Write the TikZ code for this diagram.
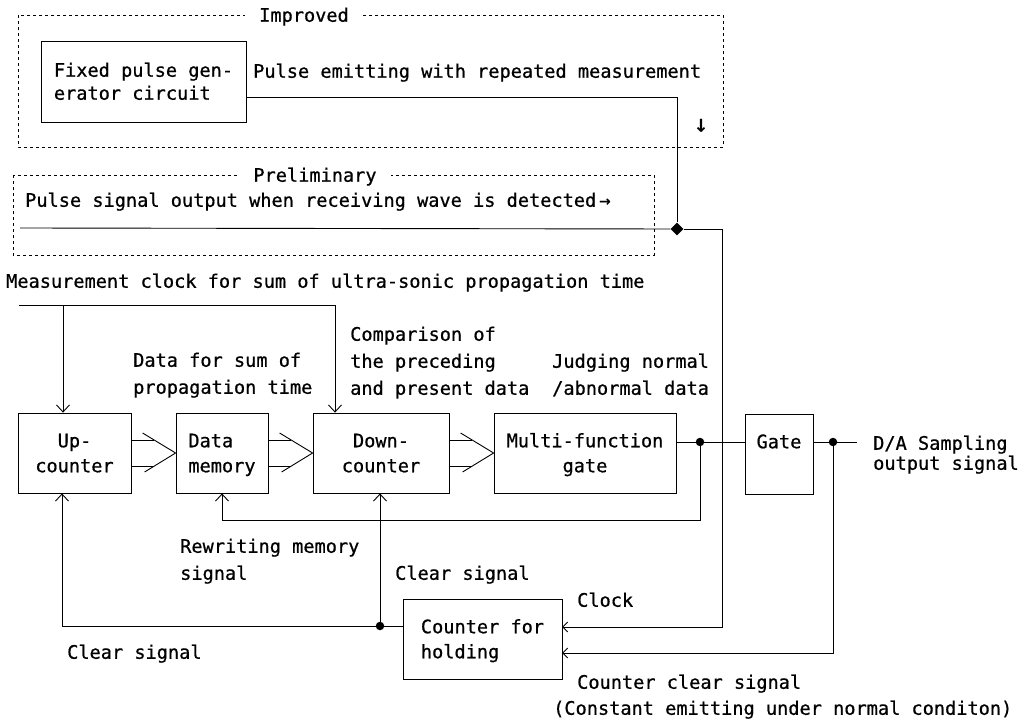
\documentclass[tikz,border=0pt]{standalone}
\usepackage{fontspec}
\newfontfamily\dmono[FakeBold=0.7]{DejaVu Sans Mono}
\usetikzlibrary{arrows.meta,shapes.geometric,calc}
\newcommand\busarrow[2]{%
  \draw[wire] ($(#1.east)+(0,-13)$) -- ($(#2.west)+(-22,-13)$);
  \draw[wire] ($(#1.east)+(0,13)$) -- ($(#2.west)+(-22,13)$);
  \draw[wire] ($(#2.west)+(-33,-20)$) -- (#2.west) -- ($(#2.west)+(-31,19)$);}
\begin{document}
\begin{tikzpicture}[x=1pt,y=-1pt,
  every node/.style={font=\dmono\fontsize{18.6}{25}\selectfont},
  box/.style={draw, line width=0.8pt, rectangle, inner sep=0pt, align=center, text height=38.5pt, text depth=0pt, minimum height=80pt},
  lbl/.style={inner sep=0pt, anchor=west, align=left, text height=13.5pt, text depth=0pt, font=\dmono\fontsize{18.6}{27}\selectfont},
  two/.style={text height=40.5pt},
  three/.style={text height=67.5pt},
  wire/.style={line width=0.9pt},
  arr/.style={wire, -{Straight Barb[length=7pt,width=13pt,line width=0.9pt]}},
  arrs/.style={wire, -{Straight Barb[length=5pt,width=10pt,line width=0.9pt]}},
  group/.style={draw, line width=0.7pt, dash pattern=on 3pt off 3pt},
  dot/.style={circle, fill, inner sep=0pt, minimum size=8.5pt},
]
\useasboundingbox (0,0) rectangle (1024,722);

% group boxes
\draw[group] (18,15) rectangle (723,147);
\node[fill=white, inner xsep=14pt, inner ysep=3pt, text height=13.5pt, text depth=0pt] (impr) at (304,15) {Improved};
\draw[group] (13,175) rectangle (654,255);
\node[fill=white, inner xsep=14pt, inner ysep=3pt, text height=13.5pt, text depth=0pt] (prelim) at (315,175) {Preliminary};

% blocks
\node[box, minimum width=205pt, minimum height=81pt, align=left, text height=36.5pt, font=\dmono\fontsize{18.6}{23}\selectfont] (fixed) at (143.5,81.5) {Fixed pulse gen-\\erator circuit};
\node[box, minimum width=113pt] (up) at (74.5,453) {Up-\\counter};
\node[box, minimum width=92pt, align=left] (mem) at (222,453) {Data\\memory};
\node[box, minimum width=136pt] (down) at (381,453) {Down-\\counter};
\node[box, minimum width=182pt] (multi) at (585,453) {Multi-function\\gate};
\node[box, minimum width=68pt] (gate) at (779,454) {Gate\\\phantom{G}};
\node[box, minimum width=159pt, align=left] (hold) at (482.5,639) {Counter for\\holding};

% labels
\node[lbl] (pe) at (253,71) {Pulse emitting with repeated measurement};
\node[inner sep=0pt, text height=13.5pt, text depth=0pt, font=\dmono\fontsize{24}{25}\selectfont] (darr) at (701,125) {↓};
\node[lbl] (ps) at (25,200) {Pulse signal output when receiving wave is detected\,→};
\node[lbl] (mc) at (6,281) {Measurement clock for sum of ultra-sonic propagation time};
\node[lbl, two] (dfs) at (133,373.5) {Data for sum of\\propagation time};
\node[lbl, three] (cmp) at (350,361) {Comparison of\\the preceding\\and present data};
\node[lbl, two] (jdg) at (552,374.5) {Judging normal\\/abnormal data};
\node[lbl, text height=33.5pt, font=\dmono\fontsize{18.6}{20}\selectfont] (da) at (873,453) {D/A Sampling\\output signal};
\node[lbl, two] (rw) at (180,559.5) {Rewriting memory\\signal};
\node[lbl] (cs1) at (67,652) {Clear signal};
\node[lbl] (cs2) at (395,573) {Clear signal};
\node[lbl] (clk) at (577,600) {Clock};
\node[lbl] (ccs) at (577,682) {Counter clear signal};
\node[lbl] (cst) at (553,708) {(Constant emitting under normal conditon)};

% junctions
\node[diamond, fill, inner sep=0pt, minimum size=13pt] (jn) at (677,229) {};
\node[dot] (d1) at (700,442) {};
\node[dot] (d2) at (833,442) {};
\node[dot] (d3) at (380,626) {};

% coordinates
\coordinate (fixedout) at (246,97);
\coordinate (fo) at (677,97);
\coordinate (pin) at (20,228);
\coordinate (c1) at (722,229);
\coordinate (holdclk) at (562,627);
\coordinate (holdclr) at (562,653);
\coordinate (cc) at (833,653);
\coordinate (mcs) at (19,305);
\coordinate (mcb) at (63,305);
\coordinate (mcr) at (335,305);
\coordinate (mo) at (676,442);
\coordinate (gi) at (745,442);
\coordinate (go) at (813,442);
\coordinate (dao) at (857,442);
\coordinate (fb) at (700,520);
\coordinate (holdl) at (403,626);
\coordinate (cl) at (62,626);

% wires
\draw[wire] (fixedout) -- (fo) -- (jn);
\draw[wire] (pin) -- (jn);
\draw[arrs] (jn) -- (c1) |- (holdclk);
\draw[wire] (mcs) -- (mcr);
\draw[arr] (mcb) -- (mcb |- up.north);
\draw[arr] (mcr) -- (mcr |- down.north);
\busarrow{up}{mem}
\busarrow{mem}{down}
\busarrow{down}{multi}
\draw[wire] (mo) -- (d1) -- (gi);
\draw[wire] (go) -- (d2) -- (dao);
\draw[arr] (d1) -- (fb) -| (mem.south);
\draw[arrs] (d2) -- (cc) -- (holdclr);
\draw[wire] (holdl) -- (d3) -- (cl);
\draw[arr] (cl) -- (cl |- up.south);
\draw[arr] (d3) -- (d3 |- down.south);
\end{tikzpicture}
\end{document}
